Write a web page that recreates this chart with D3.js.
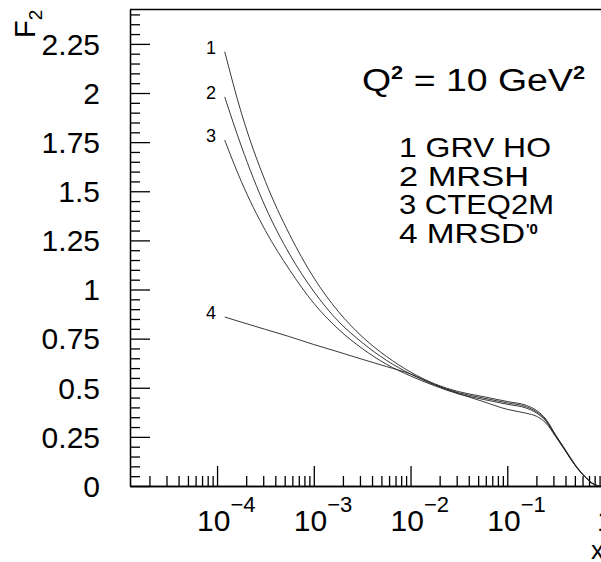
<!DOCTYPE html>
<html>
<head>
<meta charset="utf-8">
<script src="https://cdn.jsdelivr.net/npm/d3@7"></script>
<style>
  body { margin: 0; background: #fff; }
  svg { display: block; font-family: "Liberation Sans", Arial, sans-serif; }
</style>
</head>
<body>
<svg id="chart" width="601" height="562"></svg>
<script>
const xs = [1.2e-4, 1.78e-4, 3.16e-4, 5.62e-4, 1e-3, 1.78e-3, 3.16e-3, 5.62e-3, 1e-2,
            1.78e-2, 3.16e-2, 5.62e-2, 0.1, 0.158, 0.2, 0.251, 0.316, 0.398, 0.501, 0.631, 0.794, 0.891];

// F2 at Q^2 = 10 GeV^2
const grvHO  = [2.21, 1.90, 1.55, 1.28, 1.06, 0.89, 0.76, 0.66, 0.58, 0.52, 0.48, 0.455, 0.43, 0.41, 0.385, 0.34, 0.26, 0.185, 0.11, 0.05, 0.008, 0.0];
const mrsh   = [1.98, 1.73, 1.42, 1.18, 0.99, 0.84, 0.73, 0.64, 0.57, 0.515, 0.474, 0.448, 0.423, 0.403, 0.378, 0.335, 0.258, 0.183, 0.108, 0.049, 0.008, 0.0];
const cteq2m = [1.76, 1.55, 1.30, 1.10, 0.93, 0.80, 0.70, 0.62, 0.56, 0.51, 0.468, 0.441, 0.416, 0.396, 0.372, 0.33, 0.255, 0.18, 0.106, 0.048, 0.007, 0.0];
const mrsd0  = [0.86, 0.834, 0.797, 0.76, 0.72, 0.683, 0.645, 0.608, 0.57, 0.515, 0.47, 0.43, 0.39, 0.37, 0.355, 0.32, 0.252, 0.179, 0.106, 0.048, 0.007, 0.0];

const curveNames = ["1", "2", "3", "4"];
const legendLines = ["1 GRV HO", "2 MRSH", "3 CTEQ2M", "4 MRSD"];
const legendWidths = [152, 130, 155, 126];

const yTicks = [0, 0.25, 0.5, 0.75, 1, 1.25, 1.5, 1.75, 2, 2.25];
const yTickLabels = ["0", "0.25", "0.5", "0.75", "1", "1.25", "1.5", "1.75", "2", "2.25"];
const xTicks = [1e-4, 1e-3, 1e-2, 1e-1, 1];
const xTickBase = ["10", "10", "10", "10", "1"];
const xTickExp = ["\u22124", "\u22123", "\u22122", "\u22121", ""];

const svg = d3.select("#chart");
const padL = 130, padR = 604, padT = 9.5, padB = 486;

const x = d3.scaleLog().domain([Math.pow(10, -4.9), 1]).range([padL, padR]);
const y = d3.scaleLinear().domain([0, 2.425]).range([padB, padT]);

// minor ticks
const yMinor = d3.range(0, 2.41, 0.05).filter(v => Math.abs(v / 0.25 - Math.round(v / 0.25)) > 1e-6);
const xMinor = [];
for (let e = -5; e < 0; e++) {
  for (let k = 2; k <= 9; k++) {
    const v = k * Math.pow(10, e);
    if (v >= x.domain()[0]) xMinor.push(v);
  }
}

const axisStyle = g => {
  g.selectAll("path, line").attr("stroke", "#000").attr("stroke-width", 1.3);
  g.selectAll("text").remove();
};

svg.append("g")
  .attr("transform", `translate(${padL},0)`)
  .call(d3.axisLeft(y).tickValues(yTicks).tickSizeInner(-20).tickSizeOuter(0).tickFormat(""))
  .call(axisStyle);
svg.append("g")
  .attr("transform", `translate(${padL},0)`)
  .call(d3.axisLeft(y).tickValues(yMinor).tickSizeInner(-10).tickSizeOuter(0).tickFormat(""))
  .call(axisStyle);
svg.append("g")
  .attr("transform", `translate(0,${padB})`)
  .call(d3.axisBottom(x).tickValues(xTicks).tickSizeInner(-20).tickSizeOuter(0).tickFormat(""))
  .call(axisStyle);
svg.append("g")
  .attr("transform", `translate(0,${padB})`)
  .call(d3.axisBottom(x).tickValues(xMinor).tickSizeInner(-10).tickSizeOuter(0).tickFormat(""))
  .call(axisStyle);

// frame top + right
svg.append("path")
  .attr("d", `M${padL},${padT}H${padR}V${padB}`)
  .attr("fill", "none").attr("stroke", "#000").attr("stroke-width", 1.3);

// y tick labels
svg.append("g").selectAll("text")
  .data(yTicks)
  .join("text")
  .attr("x", 100)
  .attr("y", d => y(d))
  .attr("dy", "0.36em")
  .attr("text-anchor", "end")
  .attr("font-size", 30)
  .text((d, i) => yTickLabels[i]);

// x tick labels
const xl = svg.append("g").selectAll("text")
  .data(xTicks)
  .join("text")
  .attr("x", (d, i) => i === 4 ? x(d) - 7 : x(d) - 20)
  .attr("y", 531)
  .attr("font-size", 30);
xl.append("tspan").text((d, i) => xTickBase[i]);
xl.append("tspan").attr("dy", -19).attr("font-size", 22).text((d, i) => xTickExp[i]);

// axis titles
svg.append("text")
  .attr("x", 591).attr("y", 559)
  .attr("font-size", 26)
  .text("x");
const yt = svg.append("text")
  .attr("transform", "translate(35,38) rotate(-90)")
  .attr("font-size", 29);
yt.append("tspan").text("F");
yt.append("tspan").attr("dy", 7).attr("font-size", 19).text("2");

// curves
const line = d3.line()
  .x((d, i) => x(xs[i]))
  .y(d => y(d))
  .curve(d3.curveMonotoneX);

const series = [grvHO, mrsh, cteq2m, mrsd0];
svg.append("g").selectAll("path")
  .data(series)
  .join("path")
  .attr("d", line)
  .attr("fill", "none")
  .attr("stroke", "#222")
  .attr("stroke-width", 0.9);

// curve number labels
svg.append("g").selectAll("text")
  .data(series)
  .join("text")
  .attr("x", 206)
  .attr("y", d => y(d[0]) + 2)
  .attr("font-size", 18)
  .text((d, i) => curveNames[i]);

// Q^2 title
const qt = svg.append("text")
  .attr("x", 362).attr("y", 91)
  .attr("font-size", 31)
  .attr("textLength", 223)
  .attr("lengthAdjust", "spacingAndGlyphs");
qt.append("tspan").text("Q");
qt.append("tspan").attr("dy", -12).attr("font-size", 18).attr("font-weight", "bold").text("2");
qt.append("tspan").attr("dy", 12).text(" = 10 GeV");
qt.append("tspan").attr("dy", -12).attr("font-size", 18).attr("font-weight", "bold").text("2");

// legend lines
svg.append("g").selectAll("text")
  .data(legendLines)
  .join("text")
  .attr("x", 399)
  .attr("y", (d, i) => 157 + i * 28.5)
  .attr("font-size", 28)
  .attr("textLength", (d, i) => legendWidths[i])
  .attr("lengthAdjust", "spacingAndGlyphs")
  .text(d => d);
svg.append("text")
  .attr("x", 399 + legendWidths[3] + 1)
  .attr("y", 157 + 3 * 28.5 - 9)
  .attr("font-size", 15)
  .attr("font-weight", "bold")
  .text("'0");
</script>
</body>
</html>
